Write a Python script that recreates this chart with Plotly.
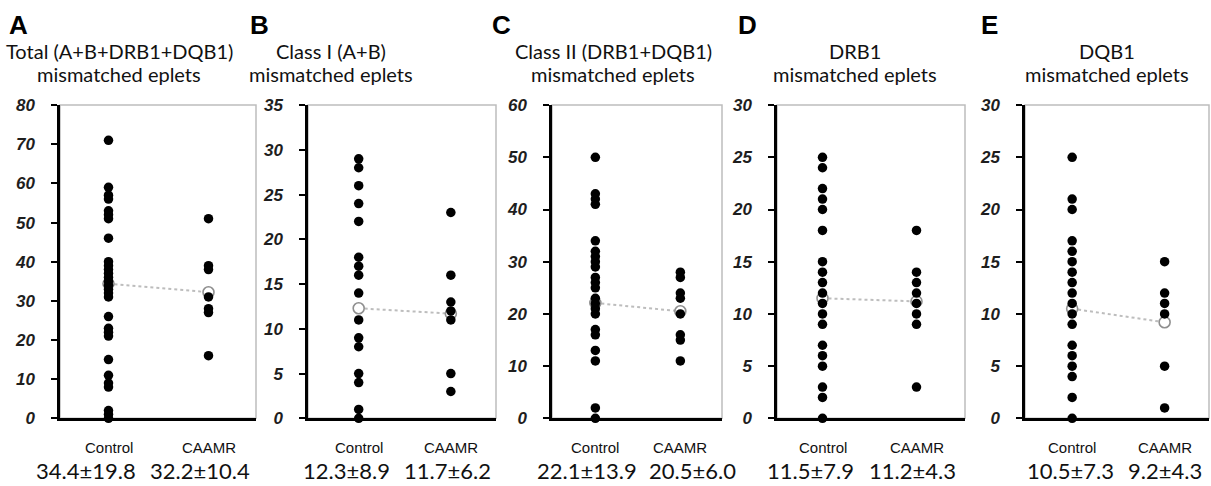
import plotly.graph_objects as go

# ---------------- data ----------------
panel_letters = ["A", "B", "C", "D", "E"]
title_line1 = ["Total (A+B+DRB1+DQB1)", "Class I (A+B)", "Class II (DRB1+DQB1)", "DRB1", "DQB1"]
title_line2 = ["mismatched eplets"] * 5
group_labels = ["Control", "CAAMR"]

A_control = [71, 59, 57, 56, 53, 52, 51, 46, 40, 39, 38, 37, 36, 35, 34, 33, 32, 31, 26, 23, 22, 21, 15, 11, 9, 8, 2, 1, 0]
A_caamr = [51, 39, 38, 31, 28, 27, 16]
B_control = [29, 28, 26, 24, 22, 18, 17, 16, 14, 11, 9, 8, 5, 4, 1, 0]
B_caamr = [23, 16, 13, 12, 11, 5, 3]
C_control = [50, 43, 42, 41, 34, 32, 31, 30, 29, 27, 26, 25, 23, 22, 21, 20, 17, 16, 13, 11, 2, 0]
C_caamr = [28, 27, 24, 23, 20, 16, 15, 11]
D_control = [25, 24, 22, 21, 20, 18, 15, 14, 13, 12, 11, 10, 9, 7, 6, 5, 3, 2, 0]
D_caamr = [18, 14, 13, 12, 11, 10, 9, 3]
E_control = [25, 21, 20, 17, 16, 15, 14, 13, 12, 11, 10, 9, 7, 6, 5, 4, 2, 0]
E_caamr = [15, 12, 11, 10, 5, 1]

control_values = [A_control, B_control, C_control, D_control, E_control]
caamr_values = [A_caamr, B_caamr, C_caamr, D_caamr, E_caamr]

control_mean = [34.4, 12.3, 22.1, 11.5, 10.5]
control_sd = [19.8, 8.9, 13.9, 7.9, 7.3]
caamr_mean = [32.2, 11.7, 20.5, 11.2, 9.2]
caamr_sd = [10.4, 6.2, 6.0, 4.3, 4.3]

y_max = [80, 35, 60, 30, 30]
y_dtick = [10, 5, 10, 5, 5]

# ---------------- layout geometry (pixels) ----------------
W, H = 1211, 486
px_x = [(60, 256), (308, 496), (552, 722), (777, 965), (1025, 1209)]
px_y = (100, 426)  # top, bottom
x_ranges = [[0.515, 2.475], [0.45, 2.49], [0.49, 2.49], [0.516, 2.516], [0.49, 2.48]]
letter_x = [7, 248, 490, 736, 979]
title_cx = [119, 331, 613, 855, 1107]
stat_shift = [[-23, -9], [-12, -3], [-8, 12], [-12, -4], [-2, 0]]
y_letter, y_t1, y_t2, y_grp, y_stat = 17, 44, 68, 456, 480

TXT = "Lato, 'Open Sans', sans-serif"
SANS = "'Liberation Sans', Arial, sans-serif"

fig = go.Figure()
shapes = []
annotations = []

for i in range(5):
    xa = "x" if i == 0 else f"x{i+1}"
    ya = "y" if i == 0 else f"y{i+1}"
    xkey = "xaxis" if i == 0 else f"xaxis{i+1}"
    ykey = "yaxis" if i == 0 else f"yaxis{i+1}"

    # mean line + open circles (drawn beneath the points)
    fig.add_trace(go.Scatter(
        x=[1, 2], y=[control_mean[i], caamr_mean[i]],
        mode="lines+markers", xaxis=xa, yaxis=ya, showlegend=False, cliponaxis=False,
        line=dict(color="#bdbdbd", width=2, dash="dot"),
        marker=dict(symbol="circle", size=11, color="white",
                    line=dict(color="#8f8f8f", width=1.6)),
    ))
    # individual points
    fig.add_trace(go.Scatter(
        x=[1] * len(control_values[i]) + [2] * len(caamr_values[i]),
        y=control_values[i] + caamr_values[i],
        mode="markers", xaxis=xa, yaxis=ya, showlegend=False, cliponaxis=False,
        marker=dict(color="black", size=9.5, line=dict(width=0)),
    ))

    x0, x1 = px_x[i]
    tv = list(range(0, y_max[i] + 1, y_dtick[i]))
    fig.layout[xkey] = dict(
        domain=[x0 / W, x1 / W], range=x_ranges[i], anchor=ya,
        showgrid=False, zeroline=False, showticklabels=False, ticks="",
        showline=True, linecolor="black", linewidth=2.5, fixedrange=True,
    )
    fig.layout[ykey] = dict(
        domain=[1 - px_y[1] / H, 1 - px_y[0] / H], range=[0, y_max[i]], anchor=xa,
        tickmode="array", tickvals=tv, ticktext=[f"<b><i>{v}</i></b>" for v in tv],
        showgrid=False, zeroline=False,
        showline=True, linecolor="black", linewidth=2.5,
        ticks="outside", ticklen=6, tickwidth=2, tickcolor="black",
        ticklabelstandoff=13,
        tickfont=dict(family=SANS, size=17, color="#1e1e1e"),
    )
    # grey frame (top & right)
    shapes.append(dict(type="rect", xref="paper", yref="paper",
                       x0=x0 / W, x1=x1 / W, y0=1 - px_y[1] / H, y1=1 - px_y[0] / H,
                       line=dict(color="#bdbdbd", width=1.5), layer="below"))

    # panel letter
    annotations.append(dict(text=f"<b>{panel_letters[i]}</b>", xref="paper", yref="paper",
                            x=letter_x[i] / W, y=1 - y_letter / H, xanchor="left", yanchor="middle",
                            showarrow=False, font=dict(family=SANS, size=26, color="black")))
    # titles
    annotations.append(dict(text=title_line1[i], xref="paper", yref="paper",
                            x=title_cx[i] / W, y=1 - y_t1 / H, xanchor="center", yanchor="middle",
                            showarrow=False, font=dict(family=TXT, size=20, color="#111")))
    annotations.append(dict(text=title_line2[i], xref="paper", yref="paper",
                            x=title_cx[i] / W, y=1 - y_t2 / H, xanchor="center", yanchor="middle",
                            showarrow=False, font=dict(family=TXT, size=20, color="#111")))
    # group labels and stats
    stats = [f"{control_mean[i]:.1f}±{control_sd[i]:.1f}", f"{caamr_mean[i]:.1f}±{caamr_sd[i]:.1f}"]
    for g in range(2):
        annotations.append(dict(text=group_labels[g], xref=xa, yref="paper",
                                x=g + 1, y=1 - y_grp / H, xanchor="center", yanchor="middle",
                                showarrow=False, font=dict(family=SANS, size=15, color="#111")))
        annotations.append(dict(text=stats[g], xref=xa, yref="paper",
                                x=g + 1, y=1 - y_stat / H, xanchor="center", yanchor="middle",
                                xshift=stat_shift[i][g],
                                showarrow=False, font=dict(family=TXT, size=22, color="#111")))

fig.update_layout(
    width=W, height=H, margin=dict(l=0, r=0, t=0, b=0),
    paper_bgcolor="white", plot_bgcolor="white",
    shapes=shapes, annotations=annotations,
)

fig.write_html(
    "out.html",
    config={"displayModeBar": False},
    post_script=("document.body.style.margin='0';"
                 "document.documentElement.style.overflow='hidden';"
                 "document.body.style.overflow='hidden';"),
)
